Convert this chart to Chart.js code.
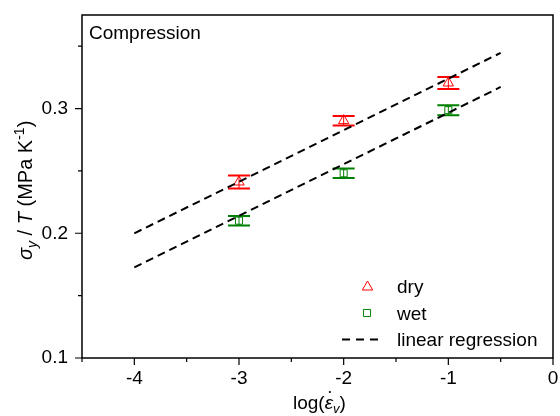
<!DOCTYPE html>
<html>
<head>
<meta charset="utf-8">
<script src="https://cdn.jsdelivr.net/npm/chart.js@4/dist/chart.umd.min.js"></script>
<style>
  html, body { margin: 0; padding: 0; background: #fff; }
  #wrap { width: 560px; height: 416px; }
</style>
</head>
<body>
<div id="wrap"><canvas id="chart" width="560" height="416"></canvas></div>
<script>
/* ---- data ---- */
const logRates = [-3, -2, -1];
const dryMean = [0.2411, 0.2903, 0.3205];
const dryErr  = [0.0052, 0.0038, 0.0048];
const wetMean = [0.2101, 0.2481, 0.2987];
const wetErr  = [0.0038, 0.0038, 0.0040];
const fitX    = [-4, -0.5];
const dryFit  = [0.2000, 0.3446];
const wetFit  = [0.1727, 0.3173];
const xMajor  = [-4, -3, -2, -1, 0];
const xMinor  = [-4.5, -3.5, -2.5, -1.5, -0.5];
const yMajor  = [0.1, 0.2, 0.3];
const yMinor  = [0.15, 0.25, 0.35];

const FONT = '"Liberation Sans", Arial, sans-serif';
const RED = '#ff0000';
const GREEN = '#008000';
const NONE = 'rgba(0,0,0,0)';

const pts = (xs, ys) => xs.map((x, i) => ({ x, y: ys[i] }));
const near = (list, v) => list.some(m => Math.abs(m - v) < 1e-9);

/* error bars, drawn through the scales */
const errorBars = {
  id: 'errorBars',
  beforeDatasetsDraw(chart) {
    const { ctx, scales: { x, y } } = chart;
    const sets = [[dryMean, dryErr, RED], [wetMean, wetErr, GREEN]];
    ctx.save();
    for (const [mean, err, col] of sets) {
      ctx.strokeStyle = col;
      logRates.forEach((lr, i) => {
        const px = x.getPixelForValue(lr);
        const top = y.getPixelForValue(mean[i] + err[i]);
        const bot = y.getPixelForValue(mean[i] - err[i]);
        ctx.lineWidth = 1;
        ctx.beginPath(); ctx.moveTo(px, top); ctx.lineTo(px, bot); ctx.stroke();
        ctx.lineWidth = 2;
        ctx.beginPath();
        ctx.moveTo(px - 11, top); ctx.lineTo(px + 11, top);
        ctx.moveTo(px - 11, bot); ctx.lineTo(px + 11, bot);
        ctx.stroke();
      });
    }
    ctx.restore();
  }
};

/* frame, ticks, titles, legend */
const decor = {
  id: 'decor',
  afterDraw(chart) {
    const { ctx, chartArea: a, scales: { x, y } } = chart;
    ctx.save();
    ctx.strokeStyle = '#000';
    ctx.lineWidth = 1.5;
    ctx.strokeRect(a.left, a.top, a.right - a.left, a.bottom - a.top);

    ctx.lineWidth = 1.2;
    ctx.beginPath();
    xMajor.forEach(v => { const p = x.getPixelForValue(v); ctx.moveTo(p, a.bottom); ctx.lineTo(p, a.bottom + 7); });
    xMinor.forEach(v => { const p = x.getPixelForValue(v); ctx.moveTo(p, a.bottom); ctx.lineTo(p, a.bottom + 4); });
    yMajor.forEach(v => { const p = y.getPixelForValue(v); ctx.moveTo(a.left, p); ctx.lineTo(a.left - 7, p); });
    yMinor.forEach(v => { const p = y.getPixelForValue(v); ctx.moveTo(a.left, p); ctx.lineTo(a.left - 4, p); });
    ctx.stroke();

    ctx.fillStyle = '#000';
    ctx.textBaseline = 'alphabetic';
    ctx.textAlign = 'left';

    // panel label
    ctx.font = '19px ' + FONT;
    ctx.fillText('Compression', 89, 39);

    // x title: log(ε̇v)
    let cx = 293, base = 409;
    ctx.font = '19px ' + FONT;
    ctx.fillText('log(', cx, base); cx += ctx.measureText('log(').width;
    ctx.font = 'italic 19px ' + FONT;
    ctx.fillText('\u03b5', cx, base);
    const ew = ctx.measureText('\u03b5').width;
    ctx.beginPath(); ctx.arc(cx + ew / 2 + 1, base - 17, 1.1, 0, Math.PI * 2); ctx.fill();
    cx += ew;
    ctx.font = 'italic 13px ' + FONT;
    ctx.fillText('v', cx, base + 4); cx += ctx.measureText('v').width;
    ctx.font = '19px ' + FONT;
    ctx.fillText(')', cx, base);

    // y title: σy / T (MPa K-1)
    ctx.translate(32, 260);
    ctx.rotate(-Math.PI / 2);
    let cy = 0;
    const put = (t, f, dy) => { ctx.font = f; ctx.fillText(t, cy, dy); cy += ctx.measureText(t).width; };
    put('\u03c3', 'italic 20px ' + FONT, 0);
    put('y', 'italic 14px ' + FONT, 5);
    put(' / ', '20px ' + FONT, 0);
    put('T', 'italic 20px ' + FONT, 0);
    put(' (MPa K', '20px ' + FONT, 0);
    put('-1', '14px ' + FONT, -8);
    put(')', '20px ' + FONT, 0);
    ctx.setTransform(1, 0, 0, 1, 0, 0);

    // legend
    ctx.lineWidth = 1;
    ctx.fillStyle = NONE;
    ctx.strokeStyle = RED;
    Chart.helpers.drawPoint(ctx, { pointStyle: 'triangle', radius: 6, borderWidth: 1 }, 367.5, 287);
    ctx.strokeStyle = GREEN;
    Chart.helpers.drawPoint(ctx, { pointStyle: 'rect', radius: 5, borderWidth: 1 }, 367, 313);
    ctx.strokeStyle = '#000';
    ctx.lineWidth = 2;
    ctx.setLineDash([8, 6]);
    ctx.beginPath(); ctx.moveTo(342, 339.5); ctx.lineTo(384, 339.5); ctx.stroke();
    ctx.setLineDash([]);
    ctx.font = '19px ' + FONT;
    ctx.fillStyle = '#000';
    ctx.fillText('dry', 397, 293);
    ctx.fillText('wet', 397, 320);
    ctx.fillText('linear regression', 397, 346);
    ctx.restore();
  }
};

new Chart(document.getElementById('chart'), {
  type: 'scatter',
  data: {
    datasets: [
      { label: 'linear regression dry', data: pts(fitX, dryFit), showLine: true, borderColor: '#000',
        borderWidth: 2, borderDash: [8, 5], pointRadius: 0, fill: false },
      { label: 'linear regression wet', data: pts(fitX, wetFit), showLine: true, borderColor: '#000',
        borderWidth: 2, borderDash: [8, 5], pointRadius: 0, fill: false },
      { label: 'dry', data: pts(logRates, dryMean), pointStyle: 'triangle', pointRadius: 6,
        borderColor: RED, backgroundColor: NONE, borderWidth: 1 },
      { label: 'wet', data: pts(logRates, wetMean), pointStyle: 'rect', pointRadius: 5,
        borderColor: GREEN, backgroundColor: NONE, borderWidth: 1 }
    ]
  },
  options: {
    responsive: false,
    devicePixelRatio: 1,
    animation: false,
    layout: { padding: { top: 15, right: 4, left: 0, bottom: 0 } },
    plugins: { legend: { display: false }, tooltip: { enabled: false } },
    scales: {
      x: {
        type: 'linear', min: -4.5, max: 0,
        grid: { display: false, drawTicks: false },
        border: { display: false },
        afterFit: s => { s.height = 58; s.paddingLeft = 0; s.paddingRight = 0; },
        ticks: {
          stepSize: 0.5, padding: 9, color: '#000', maxRotation: 0, autoSkip: false,
          font: { family: FONT, size: 19 },
          callback: v => near(xMajor, v) ? String(v) : ''
        }
      },
      y: {
        type: 'linear', min: 0.1, max: 0.375,
        grid: { display: false, drawTicks: false },
        border: { display: false },
        afterFit: s => { s.width = 82; s.paddingTop = 0; s.paddingBottom = 0; },
        ticks: {
          stepSize: 0.05, padding: 14, color: '#000', autoSkip: false,
          font: { family: FONT, size: 19 },
          callback: v => near(yMajor, v) ? v.toFixed(1) : ''
        }
      }
    }
  },
  plugins: [errorBars, decor]
});
</script>
</body>
</html>
